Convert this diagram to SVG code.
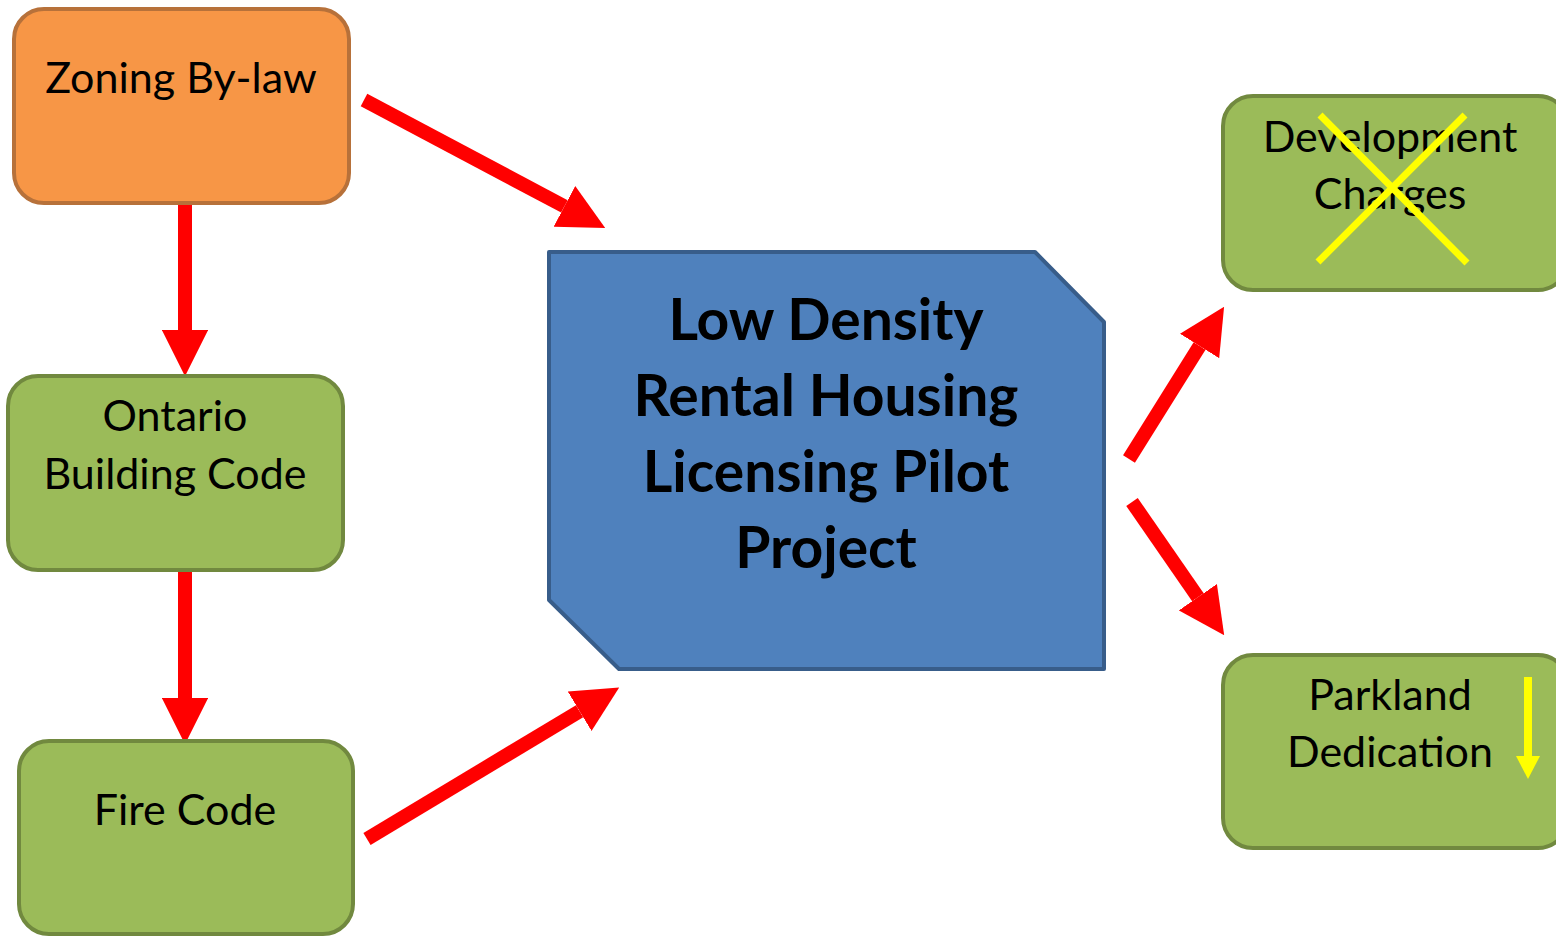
<svg xmlns="http://www.w3.org/2000/svg" width="1556" height="936" viewBox="0 0 1556 936">
<defs>
<style>
.orange{fill:#F79646;stroke:#B7713A;stroke-width:4}
.green{fill:#9BBB59;stroke:#71893F;stroke-width:4}
.blue{fill:#4F81BD;stroke:#385D8A;stroke-width:4;stroke-linejoin:round}
.t{font-family:Lato,"Open Sans","Liberation Sans",sans-serif;font-size:43px;fill:#000;text-anchor:middle}
.tb{font-family:Lato,"Open Sans","Liberation Sans",sans-serif;font-size:57px;font-weight:bold;fill:#000;text-anchor:middle}
.red{stroke:#FF0000;stroke-width:14;fill:none;marker-end:url(#rh)}
.yel{stroke:#FFFF00;stroke-width:7;fill:none}
</style>
<marker id="rh" markerUnits="strokeWidth" markerWidth="3.3" markerHeight="3.3" refX="0" refY="1.65" orient="auto" viewBox="0 0 3.3 3.3">
<path d="M0,0 L3.3,1.65 L0,3.3 z" fill="#FF0000"/>
</marker>
<marker id="yh" markerUnits="userSpaceOnUse" markerWidth="24" markerHeight="24" refX="0" refY="12" orient="auto" viewBox="0 0 23 24">
<path d="M0,0 L23,12 L0,24 z" fill="#FFFF00"/>
</marker>
</defs>
<rect width="1556" height="936" fill="#FFFFFF"/>
<g id="connectors">
<line class="red" x1="185" y1="203" x2="185" y2="330"/>
<line class="red" x1="185" y1="570" x2="185" y2="698"/>
<line class="red" x1="364" y1="100" x2="564.4" y2="206.4"/>
<line class="red" x1="367" y1="839" x2="579.6" y2="711.2"/>
<line class="red" x1="1129" y1="459" x2="1199.6" y2="346"/>
<line class="red" x1="1132" y1="502" x2="1197.9" y2="597.2"/>
</g>
<g id="zoning">
<rect class="orange" x="14" y="9" width="335" height="194" rx="30"/>
<text class="t" x="181" y="93">Zoning By-law</text>
</g>
<g id="ontario">
<rect class="green" x="8" y="376" width="335" height="194" rx="30"/>
<text class="t" x="175" y="431">Ontario</text>
<text class="t" x="175" y="489">Building Code</text>
</g>
<g id="fire">
<rect class="green" x="19" y="741" width="334" height="193" rx="30"/>
<text class="t" x="185" y="825">Fire Code</text>
</g>
<g id="center">
<path class="blue" d="M549,252 L1035,252 L1104,322 L1104,669 L619,669 L549,600 Z"/>
<text class="tb" x="826" y="340">Low Density</text>
<text class="tb" x="826" y="416">Rental Housing</text>
<text class="tb" x="826" y="492">Licensing Pilot</text>
<text class="tb" x="826" y="568">Project</text>
</g>
<g id="development">
<rect class="green" x="1223" y="96" width="345" height="194" rx="30"/>
<text class="t" x="1390" y="152">Development</text>
<text class="t" x="1390" y="209">Charges</text>
<line class="yel" x1="1320" y1="115" x2="1467" y2="263"/>
<line class="yel" x1="1465" y1="115" x2="1318" y2="262"/>
</g>
<g id="parkland">
<rect class="green" x="1223" y="655" width="345" height="193" rx="30"/>
<text class="t" x="1390" y="710">Parkland</text>
<text class="t" x="1390" y="767">Dedication</text>
<line stroke="#FFFF00" stroke-width="8" x1="1528" y1="677" x2="1528" y2="756" marker-end="url(#yh)"/>
</g>
</svg>
